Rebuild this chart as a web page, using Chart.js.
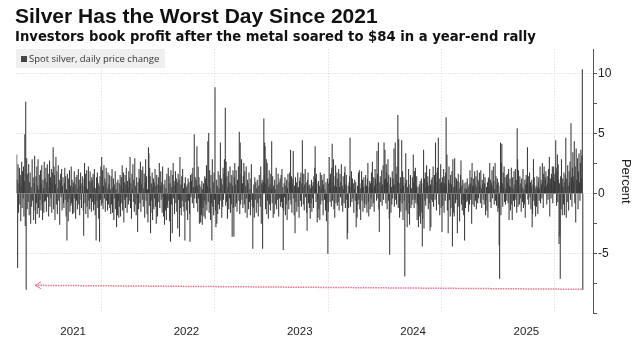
<!DOCTYPE html>
<html>
<head>
<meta charset="utf-8">
<title>Silver Has the Worst Day Since 2021</title>
<script src="https://cdn.jsdelivr.net/npm/chart.js@4.4.1/dist/chart.umd.min.js"></script>
<style>
  html, body { margin: 0; padding: 0; background: #fff; }
  #wrap { position: relative; width: 635px; height: 341px; overflow: hidden; font-family: 'DejaVu Sans', sans-serif; }
  #chart { position: absolute; left: 0; top: 0; }
  #title { position: absolute; left: 15px; top: 4px; font-family: 'Liberation Sans', Arial, sans-serif; font-size: 21px; font-weight: bold; color: #111; white-space: nowrap; }
  #subtitle { position: absolute; left: 15px; top: 29px; font-size: 13.2px; font-weight: bold; color: #111; white-space: nowrap; }
  #legend { position: absolute; left: 16px; top: 49px; width: 149px; height: 19px; background: #efefef; font-family: 'Open Sans', sans-serif; font-size: 9.5px; color: #333; line-height: 19px; white-space: nowrap; }
  #legend i { display: inline-block; width: 6px; height: 6px; background: #444; margin: 0 2px 0 5px; vertical-align: 0px; }
</style>
</head>
<body>
<div id="wrap">
  <canvas id="chart" width="635" height="341"></canvas>
  <div id="title">Silver Has the Worst Day Since 2021</div>
  <div id="subtitle">Investors book profit after the metal soared to $84 in a year-end rally</div>
  <div id="legend"><i></i><span id="legendText"></span></div>
</div>
<script>
// daily % change of spot silver, one line per month (Jan..Dec)
const spot2021 = [
  [3.2, 1.1, -6.2, 2.4, -1.6, 0.8, 2.1, -0.9, 1.5, -2.3, 0.6, 2.6, -1.2, 1.8, -0.4, 2.2, -1.9, 1.0, 4.9, -2.7, 7.6],
  [-8.0, 2.9, -1.3, 1.6, -0.7, 2.4, -1.8, 0.9, 1.7, -2.5, 0.5, -1.1, 2.8, -0.6, 1.3, -2.2, 0.8, 3.1, -1.4],
  [-2.5, 1.4, -0.8, 2.2, -1.7, 0.6, 2.8, -1.2, 0.3, -2.0, 1.5, -0.5, 1.9, -1.4, 0.7, 2.3, -0.9, -2.2, 1.1, 0.4, -1.6, 2.6, -0.7],
  [1.2, -0.6, 2.1, -1.5, 0.9, 2.4, -0.3, 1.6, -1.9, 0.5, 2.7, -1.1, 1.3, -0.4, 2.0, -1.6, 0.8, 1.7, 3.8, -1.3, 2.2],
  [1.5, -2.2, 0.7, 3.0, -0.9, 1.8, -1.7, 0.4, 2.3, -0.6, 1.1, -2.6, 0.9, 1.6, -0.3, 2.0, -1.4, 0.6, 1.3, -0.8],
  [-1.2, 0.8, 2.1, -0.5, 1.4, -1.9, 0.3, -3.9, 1.6, -0.7, -2.3, 1.2, -0.4, 1.9, -1.5, 0.6, -1.0, 2.2, -0.8, 1.1, -1.7, 0.5],
  [0.9, -1.6, 1.8, -0.4, 0.7, -2.1, 1.3, -0.6, 1.5, -1.3, 0.4, 2.0, -0.9, 1.1, -1.8, 0.6, 1.7, -0.5, -1.2, 0.8, 1.4],
  [0.6, -1.4, -3.5, 1.2, 2.5, -0.8, 1.6, -1.7, 0.5, 1.9, -1.1, 0.3, -2.0, 2.2, -0.6, 1.0, -1.3, 1.8, -0.4, 0.9, -1.5, 1.3],
  [1.1, -0.7, 1.6, -1.4, 0.5, 2.0, -0.9, -1.8, 0.4, -3.9, 1.3, -0.6, 1.7, -1.2, 0.8, -2.1, 0.6, -4.0, 1.4, -0.5, 2.2, -1.0],
  [3.0, -0.8, 1.9, -1.3, 0.6, 2.3, -0.4, 1.2, -1.5, 0.9, 2.1, -0.6, 0.4, -1.4, 1.7, -0.9, 0.7, 1.5, -1.2, 0.3, -1.7],
  [1.4, -0.9, 2.0, -1.6, 0.5, 1.2, -2.2, 0.7, -0.4, 1.8, -1.3, 0.3, -2.8, 0.9, -1.8, 1.1, -0.6, -2.0, 0.8, -1.1, 1.5],
  [-1.9, 0.6, 1.3, -0.8, 2.3, -1.4, 0.4, 1.7, -2.4, 0.9, -0.5, 1.5, -1.2, 0.7, 2.1, -0.3, -1.6, 1.0, 0.5, -0.9, 1.8, -0.6, 1.2]
];
const spot2022 = [
  [3.0, -1.2, 0.8, -2.1, 1.6, 0.3, 2.4, -0.7, 1.1, -1.5, 2.9, -0.9, 0.6, -1.8, 1.3, -0.4, -3.2, 0.9, -1.3, 2.0],
  [1.2, -0.8, 2.6, -1.5, 0.7, 1.9, -0.5, 2.2, -1.1, 0.4, 1.6, -2.0, 0.9, 2.8, -0.6, 1.4, -1.7, 0.3, -2.4, 3.8],
  [3.3, -1.0, 2.1, 1.4, -3.3, -1.6, 0.8, -0.6, 1.7, -2.2, 0.5, 1.2, -1.3, 0.9, -0.4, 2.0, -1.1, 0.6, -2.5, 1.5, -0.8, -1.9, 0.7],
  [1.3, -0.7, 2.5, -1.2, 0.6, 1.8, -0.5, 0.9, -1.6, 2.2, -0.3, -1.9, 0.7, -2.6, 1.1, -1.4, 0.4, -2.2, 1.6, -1.0],
  [-1.2, 2.1, -0.6, 1.4, -2.3, 0.8, -4.0, 1.9, -0.9, 0.5, -3.3, 1.5, 2.5, -0.4, 1.0, -1.7, 0.6, 1.8, -0.8, 1.2, -1.5],
  [0.9, -2.9, 1.6, -0.5, 1.1, -3.6, 3.0, -1.2, 0.7, -1.8, 1.4, -0.6, 2.0, -1.1, 0.4, -1.5, 0.8, -3.9, 1.3, -0.7, 0.5],
  [-1.4, 0.7, -2.2, 1.2, -0.6, 0.9, -1.7, -4.0, 1.5, -0.3, 1.0, 1.6, -0.8, 2.1, 0.5, -1.2, 4.9, -0.4, 1.3, 0.6],
  [1.1, -0.8, 3.9, 0.6, -1.5, 2.2, -0.4, 1.3, -2.5, 0.7, -1.1, -2.4, 0.5, -1.8, 1.0, -2.6, 0.3, -1.2, 0.8, -1.9, -0.6, 1.4, -2.1],
  [1.2, -0.9, 2.3, -1.4, 0.6, 4.3, -0.7, 5.0, -1.6, 1.9, 0.4, -2.2, 1.5, -0.8, -3.9, 2.8, -1.1, 0.9, -1.8, 1.7, -0.5],
  [8.8, -1.4, -2.8, 1.1, -2.5, 0.6, -1.7, 1.8, -0.9, 0.4, -1.3, 1.5, 4.2, -0.6, 1.2, -2.0, 0.7, -1.1, 2.1, -0.5, 1.6],
  [2.8, 1.2, 7.1, -1.0, 2.6, -0.7, 1.4, -2.1, 0.5, 1.8, -1.3, 0.9, -0.4, 2.2, -1.6, 0.8, -0.9, 1.5, -3.6, 0.6, 1.9, -1.2],
  [-3.6, 1.3, 2.5, -1.1, 0.7, 1.9, -0.8, -1.5, 1.1, 0.4, 2.2, -0.6, 5.1, -1.7, 4.2, -0.9, 1.6, 2.8, -0.5, 0.8, -1.2]
];
const spot2023 = [
  [1.4, 2.5, -0.9, 1.8, -1.6, 0.6, 2.2, -0.4, -2.0, 1.1, 0.8, -1.3, 1.7, -0.7, 0.3, -1.8, 1.2, 2.4, -0.5, -1.1],
  [-4.6, -1.2, 0.7, -2.0, 1.3, -0.5, 0.9, -1.6, 0.4, 1.1, -0.8, -1.9, 0.6, 1.5, -0.4, -1.1, 2.2, -2.5, 0.8],
  [1.1, -4.6, 0.6, 0.9, 6.2, 1.5, 4.2, 3.9, -1.3, 0.8, 2.8, -1.7, 2.5, -0.6, 1.2, -2.1, 0.5, 1.9, -0.9, 0.7, -1.4, 1.6, 0.3],
  [4.3, -0.8, 1.4, -2.0, 0.6, -1.7, 1.1, 0.3, -0.9, 2.1, -1.3, 0.7, -0.5, 1.6, -1.9, 0.9, -0.4, 1.2, -1.1],
  [1.5, -0.7, 2.0, -1.2, 0.5, -4.7, -1.4, 0.8, -0.3, 1.3, -1.8, 0.6, -0.9, 1.1, -2.2, 0.4, 1.6, -0.6, -1.3, 0.9, 1.7, -0.5],
  [3.6, -0.9, 1.4, -1.6, 0.7, 1.2, 3.5, -0.4, -1.8, 0.6, -3.3, 1.3, -0.7, 0.9, -1.5, 0.4, 1.7, -1.1, 0.5, -2.0, 1.0],
  [1.3, -0.6, 1.7, -1.1, 0.8, 4.4, 0.5, -0.9, 1.6, -1.4, 0.7, 2.0, -0.3, 0.9, -1.6, -3.1, 1.1, 1.7, -0.8, 0.6],
  [-1.2, 0.7, -2.1, 0.4, -0.8, 1.1, -1.5, 0.6, -0.4, 0.9, -1.2, 1.4, 0.5, 2.1, 3.9, 1.2, -0.7, 1.6, 0.8, -2.4, -0.5, -2.0, 1.0],
  [-1.3, 0.6, -2.2, 1.7, -0.9, 0.4, 1.5, -0.6, 1.1, -1.8, 0.7, 1.6, -0.5, 0.3, -1.4, 0.9, -2.3, -0.8, 1.2, -5.0],
  [-1.5, 0.8, 3.0, 1.2, -0.7, 1.6, 0.4, -1.1, 2.1, 4.1, -0.6, 0.9, 2.8, -1.3, 0.6, -2.0, 1.4, 2.3, -0.8, 0.5, 1.7, -1.0],
  [1.2, -0.7, 2.0, -1.4, 0.5, 1.6, -0.3, 0.9, 2.4, -1.0, 0.6, -1.5, 1.4, 0.3, -0.8, 1.7, 2.2, -1.2, 0.7, 1.5, -0.5],
  [-3.8, -3.3, 0.6, -1.2, 0.9, 1.4, 4.6, -1.1, 0.5, 1.8, -0.7, 1.2, -0.4, 0.8, -1.6, 0.3, 1.1, -0.6, 0.9, -2.8]
];
const spot2024 = [
  [-1.4, -2.0, 0.6, -0.9, 1.7, -0.5, 1.9, -1.3, 0.4, -2.2, 0.8, 1.8, -0.6, 1.1, -1.5, 0.5, 1.3, -0.8, -1.2, 0.7, 1.5],
  [-0.9, 0.6, -1.6, 1.2, 2.5, -0.7, -1.9, 0.5, 1.0, -1.3, 0.8, -0.4, 1.7, -1.1, 2.6, 0.4, -0.8, 1.3, -1.5, 0.6, 2.0],
  [1.2, 0.8, -0.6, 3.5, 1.6, -0.4, 4.2, -1.3, -3.2, 0.9, 1.4, -0.7, 0.5, 1.9, -1.0, 0.7, 2.3, -0.5, 4.2, 1.1],
  [3.6, 1.2, -0.8, 2.4, 1.7, -1.3, 0.9, 2.8, -0.6, 1.5, -2.1, -5.1, 0.7, 1.3, -1.6, 0.5, -0.9, 1.8, -0.4, 1.2, 0.6, 3.7],
  [-1.1, 0.7, 4.2, -0.5, 1.6, -0.9, 2.2, 1.0, 6.5, -1.2, 4.5, 0.8, -2.0, -0.6, 1.3, -1.5, 0.4, 4.4, -0.8, 1.8, -2.2, 0.6],
  [1.3, -0.6, -6.9, 0.8, 3.3, -1.4, 1.1, -2.8, 0.5, -1.7, 2.0, -0.8, -2.6, 0.7, 1.5, -1.2, 0.4, -0.9, 1.3, -0.5],
  [3.2, 0.9, -1.2, 1.8, -0.5, 2.1, -0.8, 0.6, 1.4, -2.2, -0.9, 0.5, -2.8, -1.3, 0.7, -1.9, 1.0, -2.5, 0.4, 1.2, -1.6, -4.4],
  [-2.1, 0.8, 3.6, -2.9, 1.2, -0.6, 1.7, -1.0, 0.5, 2.3, -0.4, 0.9, 1.4, -1.3, 0.6, -0.8, 2.0, -3.1, 0.7, -2.8, 1.1, -0.5],
  [1.3, -0.7, 2.2, -1.1, 0.6, 1.5, -0.5, 4.2, 0.9, -1.4, 1.7, 2.1, 0.4, 4.6, -0.9, 1.2, -1.8, 0.8, 2.4, -1.2],
  [0.9, -3.2, 1.3, -1.0, 0.5, 2.0, -1.6, 0.8, 1.4, -0.6, 1.7, 6.3, 0.6, 3.2, -1.4, -0.7, -3.3, 1.1, 2.2, -0.5, 0.8, -1.9, 1.5],
  [-1.2, 0.7, 1.8, -4.4, 2.8, -1.6, 0.5, -1.9, 2.9, 1.3, -0.8, 0.6, 1.2, -0.5, -3.3, 1.0, 1.6, -1.1, 0.4, -2.3, 0.9],
  [1.5, 2.7, -0.9, 0.6, -1.4, 1.1, -0.5, -1.8, 0.8, -3.9, 0.4, -1.2, 0.9, 0.3, -0.7, 1.2, -0.6, 0.5, -1.5, 0.7, -0.9]
];
const spot2025 = [
  [1.9, 0.8, -0.5, 1.3, -2.5, 2.5, 0.6, -0.9, 1.2, 0.4, -1.1, 1.8, 0.7, -0.6, 1.4, -1.3, 0.5, 1.9, -0.8, 1.1, -0.4, 0.9],
  [1.7, 0.6, -0.8, 1.9, 0.4, -1.2, 1.1, 0.7, -0.5, 1.6, -0.9, 0.8, 1.3, -1.8, -0.6, 0.5, -1.4, 0.9, -2.0, 1.2],
  [1.3, 0.5, 2.5, -0.7, 1.1, -1.2, 0.8, 1.9, -0.4, 0.6, 2.2, 1.0, -0.9, 0.3, 2.5, -0.6, 1.4, -1.0, 0.7, 1.2, -1.5],
  [0.9, -1.2, -4.3, -7.1, 0.6, 4.2, -1.8, 2.5, 4.1, 0.8, -1.1, 1.7, 0.5, 2.2, -0.7, 1.3, -0.9, 0.4, 1.5, -0.6, 0.9],
  [1.6, -0.8, 2.0, -2.2, 0.6, 1.2, -1.4, 0.5, 2.1, -0.9, -2.2, 1.3, 0.4, -0.6, 1.8, -1.1, 0.7, 2.0, -0.5, 1.1, -1.6],
  [5.4, 2.8, -1.1, 1.9, 0.6, -0.9, 1.4, -0.4, 0.8, -1.5, 1.2, 0.5, -0.7, 2.0, -1.2, 0.3, -0.9, 1.1, -2.0, 0.7, 1.5],
  [0.8, 1.2, 3.8, -0.5, 1.4, -0.9, 0.6, 1.7, -0.3, 0.9, -1.3, 0.5, 1.1, -2.8, -1.7, 0.7, 2.8, -0.6, 1.3, -1.0, 0.4, -1.9],
  [0.6, -1.1, 1.4, 0.5, -1.7, 0.9, 1.3, -0.6, 0.4, 2.2, -0.8, 1.1, 0.7, -0.4, 2.5, 0.9, -1.2, 1.6, 2.2, 0.5, 1.3],
  [1.1, 1.8, 0.6, -0.9, 1.4, 0.8, -0.5, 2.0, 0.9, 3.0, -1.9, 0.7, 1.2, -0.4, 1.6, 0.5, 2.2, -0.8, 1.3, 2.2, 0.6, 1.0],
  [1.6, 0.9, 4.4, 2.1, -1.0, 1.8, 3.2, -0.7, 2.4, 1.1, -4.2, 0.8, -3.6, -7.1, 1.4, -1.3, 2.8, 0.6, -1.8, 1.2, 0.5, -0.9, 1.7],
  [-1.8, 0.9, 1.5, 4.6, -2.0, 1.2, -0.7, 2.3, 0.6, -1.4, 1.8, 0.9, 2.6, -0.5, 5.8, 1.3, -1.1, 2.1, 3.4, 1.0],
  [1.4, 4.3, -0.8, 2.2, -2.4, 3.7, 1.1, 0.6, 2.9, -1.3, 1.8, 3.3, 0.9, -0.6, 2.5, 3.6, 1.2, 3.1, 10.3, -8.0]
];

const yearLabels = ['2021', '2022', '2023', '2024', '2025'];
const yTickValues = [-10, -7.5, -5, -2.5, 0, 2.5, 5, 7.5, 10];
const seriesLabel = 'Spot silver, daily price change';

// day i of month m sits evenly inside that month on a fractional-year axis
const byYear = [spot2021, spot2022, spot2023, spot2024, spot2025];
const points = [];
byYear.forEach((months, k) => {
  const yr = Number(yearLabels[k]);
  months.forEach((days, m) => {
    days.forEach((v, i) => points.push({ x: yr + (m + (i + 0.5) / days.length) / 12, y: v }));
  });
});

document.getElementById('legendText').textContent = seriesLabel;

const firstYear = Number(yearLabels[0]);
const lastYear = Number(yearLabels[yearLabels.length - 1]) + 1;

// dotted pink arrow from the latest drop back to the 2021 low
const worstDayArrow = {
  id: 'worstDayArrow',
  afterDatasetsDraw(chart) {
    const { ctx, scales: { x, y } } = chart;
    const last = points[points.length - 1];
    const low2021 = points.filter(p => p.x < firstYear + 1).reduce((a, b) => (b.y < a.y ? b : a));
    const x1 = x.getPixelForValue(last.x) - 1;
    const y1 = y.getPixelForValue(last.y);
    const x2 = x.getPixelForValue(low2021.x) + 9;
    const y2 = y.getPixelForValue(low2021.y) - 4;
    ctx.save();
    ctx.strokeStyle = '#ee6f8d';
    ctx.lineWidth = 1.5;
    ctx.setLineDash([1.5, 1]);
    ctx.beginPath();
    ctx.moveTo(x1, y1);
    ctx.lineTo(x2, y2);
    ctx.stroke();
    ctx.setLineDash([]);
    ctx.lineWidth = 1;
    ctx.beginPath();
    ctx.moveTo(x2 + 6, y2 - 3.5);
    ctx.lineTo(x2, y2);
    ctx.lineTo(x2 + 6, y2 + 3.5);
    ctx.stroke();
    ctx.restore();
  }
};

new Chart(document.getElementById('chart'), {
  type: 'bar',
  data: {
    datasets: [{
      label: seriesLabel,
      data: points,
      backgroundColor: '#3c3c3c',
      barPercentage: 1,
      categoryPercentage: 1,
      borderWidth: 0
    }]
  },
  options: {
    responsive: false,
    animation: false,
    layout: { padding: { top: 49.3, left: 16.5, right: 0, bottom: 0 } },
    plugins: {
      legend: { display: false },
      tooltip: { enabled: false }
    },
    scales: {
      x: {
        type: 'linear',
        offset: false,
        min: firstYear,
        max: 2026.088,
        afterBuildTicks: (scale) => {
          const t = [];
          yearLabels.forEach(l => { t.push({ value: Number(l) }); t.push({ value: Number(l) + 0.5 }); });
          t.push({ value: lastYear });
          scale.ticks = t;
        },
        afterFit: (scale) => { scale.height = 27.7; },
        ticks: {
          autoSkip: false,
          maxRotation: 0,
          padding: 12,
          color: '#222',
          font: { family: 'Liberation Sans', size: 11.5 },
          callback: (v) => (v % 1 === 0.5 ? String(v - 0.5) : '')
        },
        grid: {
          drawTicks: false,
          lineWidth: 1,
          color: (c) => (c.tick && Number.isInteger(c.tick.value) && c.tick.value > firstYear ? '#d6d6d6' : 'transparent')
        },
        border: { display: false, dash: [1, 2] }
      },
      y: {
        position: 'right',
        min: -10,
        max: 12,
        afterBuildTicks: (scale) => { scale.ticks = yTickValues.map(v => ({ value: v })); },
        afterFit: (scale) => { scale.width = 42; },
        ticks: {
          padding: 1,
          color: '#222',
          font: { family: 'Liberation Sans', size: 12 },
          callback: (v) => (v % 5 === 0 && v > -10 ? String(v) : '')
        },
        grid: {
          tickLength: 4,
          tickColor: '#555',
          color: (c) => (c.tick && c.tick.value % 5 === 0 && c.tick.value > -10 ? '#d0d0d0' : 'transparent')
        },
        border: { display: true, color: '#555', width: 1, dash: [1, 2] },
        title: {
          display: true,
          text: 'Percent',
          color: '#222',
          font: { family: 'Liberation Sans', size: 13 },
          padding: { top: 2, bottom: 0 }
        }
      }
    }
  },
  plugins: [worstDayArrow]
});
</script>
</body>
</html>
